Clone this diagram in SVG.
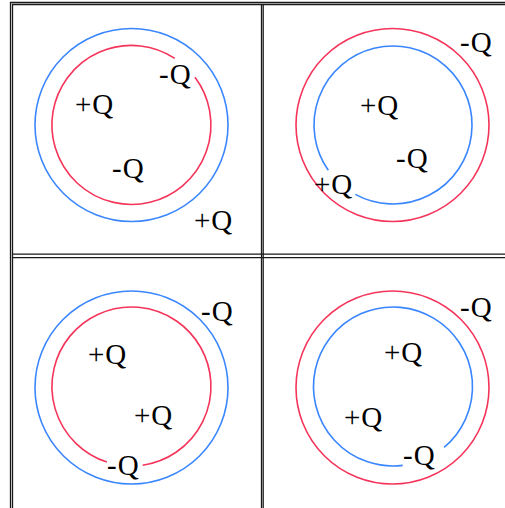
<svg xmlns="http://www.w3.org/2000/svg" width="505" height="508" viewBox="0 0 505 508">
<style>
.frame{stroke:#1a1a1a;stroke-width:1.3;fill:none}
.red{stroke:#f5345a;stroke-width:1.6;fill:none}
.blue{stroke:#3a86ff;stroke-width:1.6;fill:none}
text{font-family:"Liberation Serif","Times New Roman",serif;font-size:29px;fill:#000;letter-spacing:1px}
</style>
<rect x="0" y="0" width="505" height="508" fill="#fff"/>
<g id="frame">
<line class="frame" x1="10" y1="2.5" x2="505" y2="2.5"/>
<line class="frame" x1="12" y1="4.5" x2="505" y2="4.5"/>
<line class="frame" x1="10.5" y1="2" x2="10.5" y2="508"/>
<line class="frame" x1="12.5" y1="4" x2="12.5" y2="508"/>
<line class="frame" x1="261.5" y1="4" x2="261.5" y2="508"/>
<line class="frame" x1="263.2" y1="4" x2="263.2" y2="508"/>
<line class="frame" x1="12" y1="254.2" x2="505" y2="254.2"/>
<line class="frame" x1="12" y1="257.6" x2="505" y2="257.6"/>
</g>
<g id="panel1">
<circle class="blue" cx="131.5" cy="125" r="96.5"/>
<path class="red" d="M195.0 77.2 A79.5 79.5 0 1 1 174.8 58.3"/>
<text x="75" y="114">+Q</text>
<text x="159" y="84">-Q</text>
<text x="112" y="178">-Q</text>
<text x="194" y="230">+Q</text>
</g>
<g id="panel2">
<circle class="red" cx="392.5" cy="125" r="96.5"/>
<path class="blue" d="M328.3 170.3 A79 79 0 1 1 355.3 194.4"/>
<text x="460" y="52">-Q</text>
<text x="360" y="115">+Q</text>
<text x="396" y="168">-Q</text>
<text x="314" y="194">+Q</text>
</g>
<g id="panel3">
<circle class="blue" cx="131.5" cy="387.5" r="96.5"/>
<path class="red" d="M106.9 462.1 A79.5 79.5 0 1 1 142.6 465.2"/>
<text x="201" y="321">-Q</text>
<text x="88" y="364">+Q</text>
<text x="134" y="425">+Q</text>
<text x="107" y="475">-Q</text>
</g>
<g id="panel4">
<circle class="red" cx="392.5" cy="387.5" r="96.5"/>
<path class="blue" d="M402.7 465.4 A79.5 79.5 0 1 1 444.1 447.4"/>
<text x="460" y="317">-Q</text>
<text x="384" y="362">+Q</text>
<text x="344" y="427">+Q</text>
<text x="403" y="465">-Q</text>
</g>
</svg>
